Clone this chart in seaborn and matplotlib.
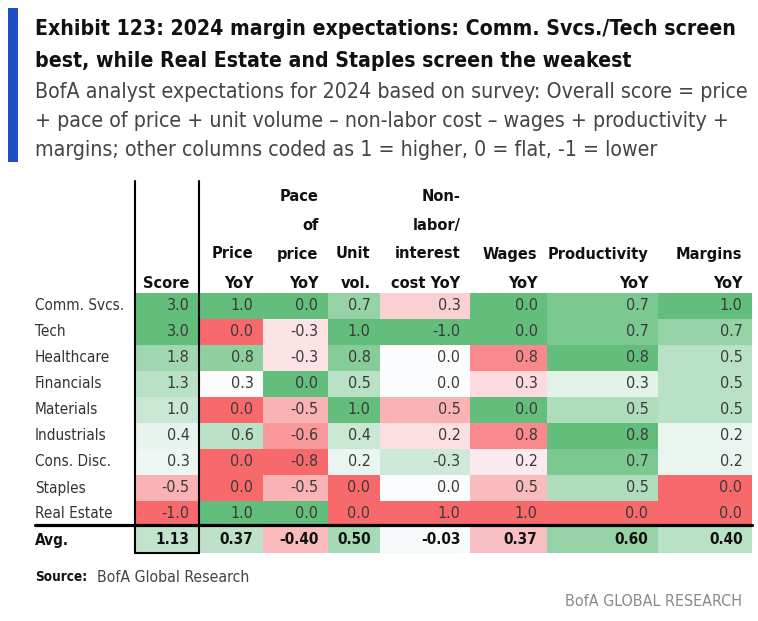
import numpy as np
import pandas as pd
import seaborn as sns
import matplotlib
matplotlib.use("Agg")
import matplotlib.pyplot as plt
from matplotlib import font_manager as fm
from matplotlib.colors import LinearSegmentedColormap
from matplotlib.lines import Line2D
from matplotlib.patches import Rectangle

# ---------------- data ----------------
sectors = ['Comm. Svcs.', 'Tech', 'Healthcare', 'Financials', 'Materials',
           'Industrials', 'Cons. Disc.', 'Staples', 'Real Estate']
score = [3.0, 3.0, 1.8, 1.3, 1.0, 0.4, 0.3, -0.5, -1.0]
price_yoy = [1.0, 0.0, 0.8, 0.3, 0.0, 0.6, 0.0, 0.0, 1.0]
pace_of_price = [0.0, -0.3, -0.3, 0.0, -0.5, -0.6, -0.8, -0.5, 0.0]
unit_vol = [0.7, 1.0, 0.8, 0.5, 1.0, 0.4, 0.2, 0.0, 0.0]
nonlabor_cost = [0.3, -1.0, 0.0, 0.0, 0.5, 0.2, -0.3, 0.0, 1.0]
wages_yoy = [0.0, 0.0, 0.8, 0.3, 0.0, 0.8, 0.2, 0.5, 1.0]
productivity_yoy = [0.7, 0.7, 0.8, 0.3, 0.5, 0.8, 0.7, 0.5, 0.0]
margins_yoy = [1.0, 0.7, 0.5, 0.5, 0.5, 0.2, 0.2, 0.0, 0.0]
avg_row = [1.13, 0.37, -0.40, 0.50, -0.03, 0.37, 0.60, 0.40]
avg_label = 'Avg.'

headers = [['Score'], ['Price', 'YoY'], ['Pace', 'of', 'price', 'YoY'],
           ['Unit', 'vol.'], ['Non-', 'labor/', 'interest', 'cost YoY'],
           ['Wages', 'YoY'], ['Productivity', 'YoY'], ['Margins', 'YoY']]

columns = [score, price_yoy, pace_of_price, unit_vol, nonlabor_cost,
           wages_yoy, productivity_yoy, margins_yoy]

# colour-scale settings (style): +1 higher is better, -1 lower is better
direction = [1, 1, 1, 1, -1, -1, 1, 1]
white_point = [0.0, 0.3, -0.2, 0.1, 0.0, 0.1, 0.2, 0.1]
avg_scale = [3.0, 0.9, 0.9, 0.9, 0.9, 0.9, 0.9, 0.9]

title_lines = ["Exhibit 123: 2024 margin expectations: Comm. Svcs./Tech screen",
               "best, while Real Estate and Staples screen the weakest"]
subtitle_lines = ["BofA analyst expectations for 2024 based on survey: Overall score = price",
                  "+ pace of price + unit volume \u2013 non-labor cost \u2013 wages + productivity +",
                  "margins; other columns coded as 1 = higher, 0 = flat, -1 = lower"]
source_bold = "Source:"
source_text = "BofA Global Research"
brand_text = "BofA GLOBAL RESEARCH"

# ---------------- fonts ----------------
sns.set_theme(style="white")
names = {f.name for f in fm.fontManager.ttflist}
FAM, STRETCH = None, 'normal'
if 'Liberation Sans Narrow' in names:
    FAM = 'Liberation Sans Narrow'
elif any(f.name == 'DejaVu Sans' and f.stretch in ('condensed', 'semi-condensed')
         for f in fm.fontManager.ttflist):
    FAM, STRETCH = 'DejaVu Sans', 'condensed'
else:
    FAM = 'Roboto' if 'Roboto' in names else 'DejaVu Sans'
plt.rcParams['font.family'] = [FAM, 'DejaVu Sans']
plt.rcParams['font.stretch'] = STRETCH

W, H = 758, 621
fig = plt.figure(figsize=(W / 100, H / 100), dpi=100)
fig.patch.set_facecolor('white')
renderer = fig.canvas.get_renderer()


def fx(x):
    return x / W


def fy(y):
    return 1 - y / H


def fit(s, target, **kw):
    t = fig.text(0, 0, s, fontsize=10, **kw)
    w = t.get_window_extent(renderer).width
    t.remove()
    return 10 * target / w


# ---------------- header text ----------------
fig.add_artist(Rectangle((fx(8), fy(162)), 10 / W, 154 / H,
                         transform=fig.transFigure, color='#1F4FC6', lw=0))
ts = min(fit(title_lines[0], 695, fontweight='bold'), 16.5)
for i, s in enumerate(title_lines):
    fig.text(fx(35), fy(29 + 32 * i), s, fontsize=ts, fontweight='bold',
             color='#111111', ha='left', va='center')
ss = min(fit(subtitle_lines[0], 715, fontweight='light'), 15.5)
for i, s in enumerate(subtitle_lines):
    fig.text(fx(35), fy(92 + 29 * i), s, fontsize=ss, fontweight='light',
             color='#444444', ha='left', va='center')

# ---------------- table ----------------
x_edges = [135, 199, 263, 328, 380, 470, 547, 658, 752]
top, bottom = 293, 553
cmap = LinearSegmentedColormap.from_list('rwg', ['#F8696B', '#FCFCFF', '#63BE7B'])

vsize = fit('-1.0', 28, fontweight='light')
asize = fit('1.13', 34, fontweight='bold')
hsize = fit('Productivity', 100, fontweight='bold')
lsize = fit('Real Estate', 78, fontweight='light')


def intensity(vals, mid, d):
    v = np.asarray(vals, dtype=float)
    lo, hi = v.min(), v.max()
    up = np.where(v >= mid, (v - mid) / max(hi - mid, 1e-9), 0.0)
    dn = np.where(v < mid, (v - mid) / max(mid - lo, 1e-9), 0.0)
    return (up + dn) * d


for j, vals in enumerate(columns):
    x0, x1 = x_edges[j], x_edges[j + 1]
    ax = fig.add_axes([fx(x0), fy(bottom), (x1 - x0) / W, (bottom - top) / H])
    inten = list(intensity(vals, white_point[j], direction[j]))
    inten.append(float(np.clip(avg_row[j] * direction[j] / avg_scale[j], -1, 1)))
    labels = [f"{v:.1f}" for v in vals] + [f"{avg_row[j]:.2f}"]
    df = pd.DataFrame({'v': inten}, index=sectors + [avg_label])
    ann = np.array(labels).reshape(-1, 1)
    sns.heatmap(df, ax=ax, cmap=cmap, vmin=-1, vmax=1, cbar=False,
                annot=ann, fmt='', xticklabels=False,
                yticklabels=(j == 0), linewidths=0,
                annot_kws={'fontsize': vsize, 'color': '#3a3a3a',
                           'fontweight': 'light'})
    pad = 9.5 / (x1 - x0)
    for t in ax.texts:
        t.set_ha('right')
        xpos, ypos = t.get_position()
        t.set_position((1 - pad, ypos))
        if ypos > 9:
            t.set_fontweight('bold')
            t.set_fontsize(asize)
            t.set_color('#111111')
    for sp in ax.spines.values():
        sp.set_visible(False)
    ax.set_xlabel('')
    ax.set_ylabel('')
    if j == 0:
        ax.tick_params(axis='y', length=0, pad=(x0 - 35) * 0.72)
        for lab in ax.get_yticklabels():
            lab.set_ha('left')
            lab.set_rotation(0)
            lab.set_fontsize(lsize)
            lab.set_color('#333333')
            lab.set_fontweight('light')
            if lab.get_text() == avg_label:
                lab.set_fontweight('bold')
                lab.set_color('#111111')
    else:
        ax.tick_params(axis='y', length=0)
    # column header
    for k, line in enumerate(reversed(headers[j])):
        fig.text(fx(x1 - 9.5), fy(283 - 29 * k), line, fontsize=hsize,
                 fontweight='bold', color='#111111', ha='right', va='center')

# rules
lw_box = 1.5
fig.add_artist(Line2D([fx(35), fx(752)], [fy(525), fy(525)], color='black',
                      lw=2.3, transform=fig.transFigure))
for xv in (135, 199):
    fig.add_artist(Line2D([fx(xv), fx(xv)], [fy(181), fy(553)], color='black',
                          lw=lw_box, transform=fig.transFigure))
fig.add_artist(Line2D([fx(135), fx(199)], [fy(553), fy(553)], color='black',
                      lw=lw_box, transform=fig.transFigure))

# ---------------- footer ----------------
fsz = fit(source_bold, 52, fontweight='bold')
fig.text(fx(35), fy(577), source_bold, fontsize=fsz, fontweight='bold',
         color='#111111', ha='left', va='center')
fig.text(fx(97), fy(577), source_text, fontsize=fit(source_text, 153, fontweight='light'),
         fontweight='light', color='#444444', ha='left', va='center')
fig.text(fx(742), fy(602), brand_text, fontsize=fit(brand_text, 177),
         color='#8a8a8a', ha='right', va='center')

fig.savefig('out.png', dpi=100, facecolor='white')
